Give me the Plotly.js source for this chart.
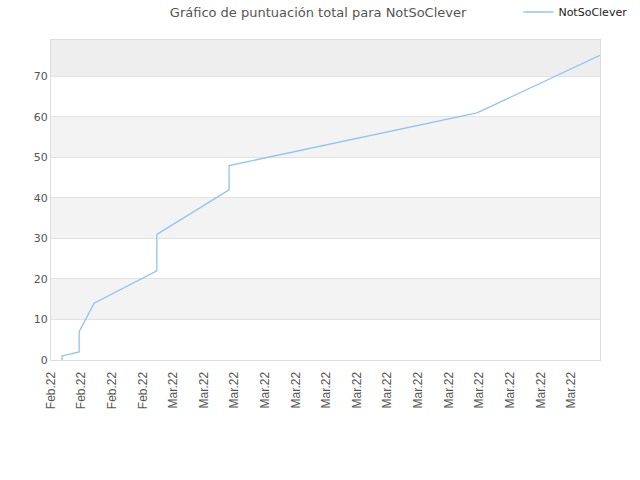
<!DOCTYPE html>
<html>
<head>
<meta charset="utf-8">
<script src="https://cdn.plot.ly/plotly-3.0.1.min.js"></script>
<style>
  html, body { margin: 0; padding: 0; background: #fff; }
  #chart { width: 640px; height: 480px; }
</style>
</head>
<body>
<div id="chart"></div>
<script>
// Total score over time for one player
const playerName = "NotSoClever";
const scoreTimes = [
  "2022-02-25 08:40", "2022-02-25 08:41",
  "2022-02-25 22:05", "2022-02-25 22:06",
  "2022-02-26 09:50",
  "2022-02-28 11:00", "2022-02-28 11:01",
  "2022-03-02 19:40", "2022-03-02 19:41",
  "2022-03-10 22:05",
  "2022-03-14 22:35"
];
const scoreValues = [0, 1, 2, 7, 14, 22, 31, 42, 48, 61, 75.2];

// y bands shaded behind the grid
const bandRanges = [[10, 20], [30, 40], [50, 60]];
const topBand = [70, 79];

const shapes = bandRanges.map((b) => ({
  type: "rect",
  xref: "paper",
  yref: "y",
  x0: 0,
  x1: 1,
  y0: b[0],
  y1: b[1],
  fillcolor: "#f3f3f3",
  line: { width: 0 },
  layer: "below",
}));
shapes.push({
  type: "rect",
  xref: "paper",
  yref: "y",
  x0: 0,
  x1: 1,
  y0: topBand[0],
  y1: topBand[1],
  fillcolor: "#eeeeee",
  line: { width: 0 },
  layer: "below",
});

const traces = [
  {
    type: "scatter",
    mode: "lines",
    name: playerName,
    x: scoreTimes,
    y: scoreValues,
    line: { color: "#90c3f5", width: 1.3 },
  },
];

const layout = {
  width: 640,
  height: 480,
  paper_bgcolor: "#ffffff",
  plot_bgcolor: "#ffffff",
  margin: { l: 51, r: 40, t: 40, b: 120, autoexpand: false },
  font: { family: "DejaVu Sans, sans-serif", size: 11, color: "#444" },
  title: {
    text: "Gráfico de puntuación total para " + playerName,
    font: { family: "DejaVu Sans, sans-serif", size: 13, color: "#555" },
    x: 0.497,
    xanchor: "center",
    y: 0.975,
    yanchor: "middle",
  },
  showlegend: true,
  legend: {
    xref: "container",
    yref: "container",
    x: 0.81,
    y: 0.975,
    xanchor: "left",
    yanchor: "middle",
    font: { family: "DejaVu Sans, sans-serif", size: 11, color: "#222" },
    bgcolor: "rgba(0,0,0,0)",
  },
  xaxis: {
    type: "date",
    range: ["2022-02-25 00:00", "2022-03-14 22:35"],
    dtick: 86400000,
    tick0: "2022-02-25",
    tickformat: "%b.%y",
    tickangle: -90,
    showgrid: false,
    showline: true,
    linecolor: "#dddddd",
    mirror: true,
    ticks: "outside",
    ticklen: 6,
    tickcolor: "rgba(0,0,0,0)",
    zeroline: false,
    tickfont: { family: "Liberation Sans, Arial, sans-serif", size: 12, color: "#555" },
  },
  yaxis: {
    range: [0, 79],
    dtick: 10,
    showgrid: true,
    gridcolor: "#e3e3e3",
    showline: true,
    linecolor: "#dddddd",
    mirror: true,
    ticks: "",
    zeroline: false,
    tickfont: { family: "DejaVu Sans, sans-serif", size: 11, color: "#555" },
  },
  shapes: shapes,
};

Plotly.newPlot("chart", traces, layout, { displayModeBar: false, staticPlot: true });
</script>
</body>
</html>
